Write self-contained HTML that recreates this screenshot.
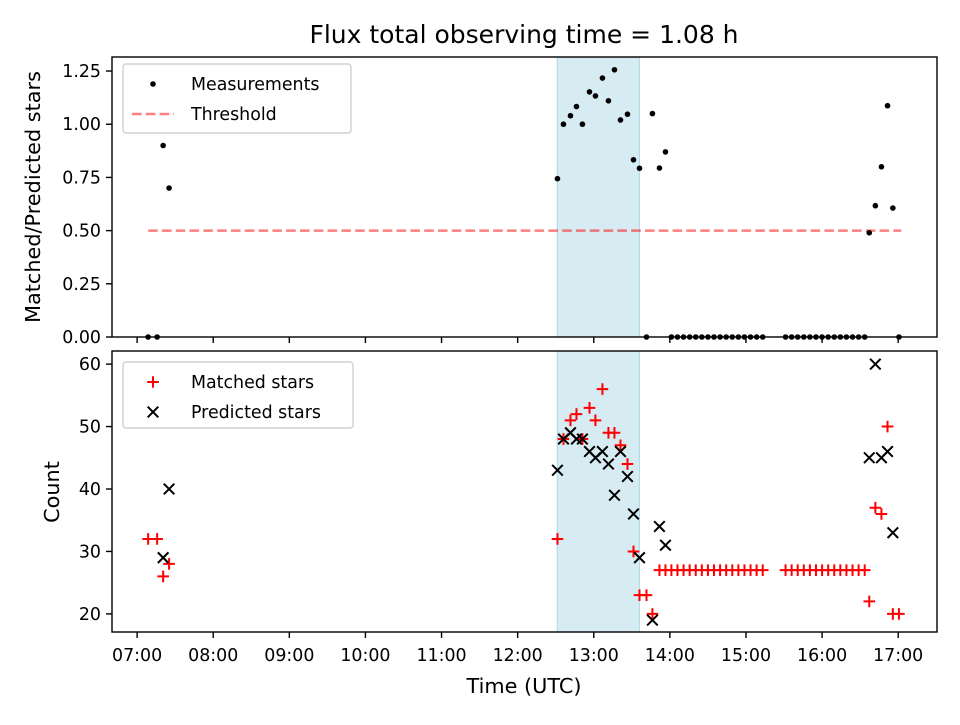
<!DOCTYPE html>
<html><head><meta charset="utf-8"><style>
body{margin:0;background:#fff}
svg text{font-family:"DejaVu Sans","Liberation Sans",sans-serif;fill:#000}
</style></head><body>
<svg id="chart" width="960" height="720" viewBox="0 0 960 720" xmlns="http://www.w3.org/2000/svg">
<rect width="960" height="720" fill="#fff"/>
<text x="524" y="43" font-size="25" text-anchor="middle">Flux total observing time = 1.08 h</text>
<g id="topPanel"></g><g id="botPanel"></g>
<text x="524" y="693" font-size="20.8" text-anchor="middle">Time (UTC)</text>
<text transform="translate(40,197) rotate(-90)" font-size="20.8" text-anchor="middle">Matched/Predicted stars</text>
<text transform="translate(59,492) rotate(-90)" font-size="20.8" text-anchor="middle">Count</text>
</svg>
<script>
const times=[7.145,7.263,7.342,7.42,12.523,12.602,12.694,12.773,12.851,12.944,13.022,13.114,13.193,13.272,13.351,13.443,13.522,13.601,13.693,13.771,13.863,13.942,14.02,14.10,14.18,14.26,14.34,14.42,14.50,14.58,14.66,14.74,14.82,14.90,14.98,15.06,15.14,15.22,15.52,15.60,15.68,15.76,15.84,15.92,16.00,16.08,16.16,16.24,16.32,16.40,16.48,16.56,16.62,16.70,16.78,16.86,16.93,17.01];
const ratio=[0,0,0.9,0.7,0.744,1.0,1.04,1.083,1.0,1.152,1.133,1.217,1.11,1.256,1.02,1.047,0.833,0.793,0,1.05,0.794,0.87,0,0,0,0,0,0,0,0,0,0,0,0,0,0,0,0,0,0,0,0,0,0,0,0,0,0,0,0,0,0,0.49,0.617,0.8,1.087,0.606,0];
const matched=[32,32,26,28,32,48,51,52,48,53,51,56,49,49,47,44,30,23,23,20,27,27,27,27,27,27,27,27,27,27,27,27,27,27,27,27,27,27,27,27,27,27,27,27,27,27,27,27,27,27,27,27,22,37,36,50,20,20];
const predicted=[null,null,29,40,43,48,49,48,48,46,45,46,44,39,46,42,36,29,null,19,34,31,null,null,null,null,null,null,null,null,null,null,null,null,null,null,null,null,null,null,null,null,null,null,null,null,null,null,null,null,null,null,45,60,45,46,33,null];
const shadeSpan=[12.52,13.60];
const threshold=0.5;
const xTicks=[7,8,9,10,11,12,13,14,15,16,17];
const topTicks=[0,0.25,0.5,0.75,1.0,1.25];
const botTicks=[20,30,40,50,60];

const NS="http://www.w3.org/2000/svg";
const L=112,R=937;
const X=h=>L+(h-6.67)/(17.51-6.67)*(R-L);
const T0=57,T1=337, yT=v=>T1-v/1.316*(T1-T0);
const B0=351,B1=632, yB=v=>B1-(v-17.1)/(62.1-17.1)*(B1-B0);
const FS=17.4, DASH='9.6,4.2';
function mk(p,tag,at){const e=document.createElementNS(NS,tag);for(const k in at)e.setAttribute(k,at[k]);p.appendChild(e);return e;}
const gTop=document.getElementById('topPanel'),gBot=document.getElementById('botPanel');

function frame(g,y0,y1,yf,ticks,fmt,labels,nm){
  let s=mk(g,'rect',{x:X(shadeSpan[0]),y:y0,width:X(shadeSpan[1])-X(shadeSpan[0]),height:y1-y0,fill:'#add8e6','fill-opacity':0.5,stroke:'#add8e6'});
  
  
  xTicks.forEach(h=>{
    mk(g,'line',{x1:X(h),x2:X(h),y1:y1,y2:y1+6,stroke:'#000','stroke-width':1.4});
    if(labels){let t=mk(g,'text',{x:X(h),y:y1+29,'font-size':FS,'text-anchor':'middle'});t.textContent=(h<10?'0':'')+h+':00';
      
      }
  });
  ticks.forEach(v=>{
    mk(g,'line',{x1:L-6,x2:L,y1:yf(v),y2:yf(v),stroke:'#000','stroke-width':1.4});
    let t=mk(g,'text',{x:L-11,y:yf(v)+6,'font-size':FS,'text-anchor':'end'});t.textContent=fmt(v);
    
    
  });
}
frame(gTop,T0,T1,yT,topTicks,v=>v.toFixed(2),false,'top');
frame(gBot,B0,B1,yB,botTicks,v=>String(v),true,'bottom');

let th=mk(gTop,'line',{x1:X(times[0]),x2:X(times[times.length-1]+0.03),y1:yT(threshold),y2:yT(threshold),stroke:'#ff0000','stroke-opacity':0.5,'stroke-width':2.6,'stroke-dasharray':DASH});


times.forEach((t,i)=>{
  let c=mk(gTop,'circle',{cx:X(t),cy:yT(ratio[i]),r:2.8,fill:'#000'});
  
  
});
times.forEach((t,i)=>{
  const x=X(t),y=yB(matched[i]);
  let p=mk(gBot,'path',{d:`M${x-5.8},${y}H${x+5.8}M${x},${y-5.8}V${y+5.8}`,stroke:'#ff0000','stroke-width':2,fill:'none'});
  
  
});
times.forEach((t,i)=>{
  if(predicted[i]==null)return;
  const x=X(t),y=yB(predicted[i]),d=5.3;
  let p=mk(gBot,'path',{d:`M${x-d},${y-d}L${x+d},${y+d}M${x-d},${y+d}L${x+d},${y-d}`,stroke:'#000','stroke-width':2,fill:'none'});
  
  
});
mk(gTop,'rect',{x:L,y:T0,width:R-L,height:T1-T0,fill:'none',stroke:'#000','stroke-width':1.4});
mk(gBot,'rect',{x:L,y:B0,width:R-L,height:B1-B0,fill:'none',stroke:'#000','stroke-width':1.4});

function legend(g,x,y,w,h,items,nm){
  let r=mk(g,'rect',{x:x,y:y,width:w,height:h,rx:3,fill:'#fff','fill-opacity':0.8,stroke:'#d0d0d0','stroke-width':1.4});
  
  
  items.forEach((it,i)=>{
    const cy=y+20+i*30;
    it.draw(x+30,cy);
    let t=mk(g,'text',{x:x+68,y:cy+6,'font-size':FS});t.textContent=it.label;
    
    
  });
}
legend(gTop,123,64,228,69,[
  {label:'Measurements',draw:(x,y)=>mk(gTop,'circle',{cx:x,cy:y,r:2.8,fill:'#000'})},
  {label:'Threshold',draw:(x,y)=>mk(gTop,'line',{x1:x-21,x2:x+21,y1:y,y2:y,stroke:'#ff0000','stroke-opacity':0.5,'stroke-width':2.6,'stroke-dasharray':DASH})}
],'top-legend');
legend(gBot,123,362,230,66,[
  {label:'Matched stars',draw:(x,y)=>mk(gBot,'path',{d:`M${x-5.8},${y}H${x+5.8}M${x},${y-5.8}V${y+5.8}`,stroke:'#ff0000','stroke-width':2})},
  {label:'Predicted stars',draw:(x,y)=>mk(gBot,'path',{d:`M${x-5.3},${y-5.3}L${x+5.3},${y+5.3}M${x-5.3},${y+5.3}L${x+5.3},${y-5.3}`,stroke:'#000','stroke-width':2})}
],'bottom-legend');
</script>
</body></html>
